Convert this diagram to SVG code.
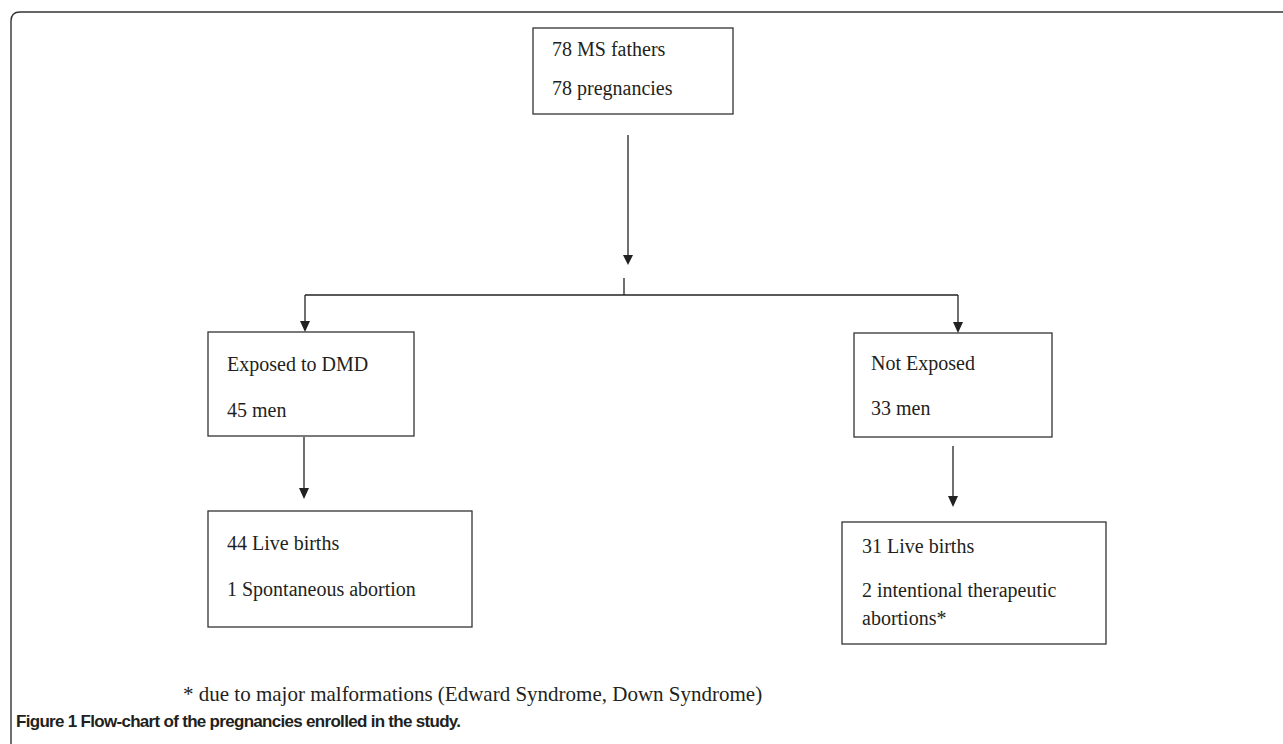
<svg xmlns="http://www.w3.org/2000/svg" width="1283" height="744" viewBox="0 0 1283 744">
<style>
.box{fill:#fff;stroke:#333;stroke-width:1.3}
.t{font-family:"Liberation Serif","Times New Roman",serif;font-size:20px;fill:#231f20}
.fn{font-family:"Liberation Serif","Times New Roman",serif;font-size:21px;fill:#231f20}
.cap{font-family:"Liberation Sans",Arial,sans-serif;font-size:17px;font-weight:bold;letter-spacing:-0.7px;fill:#231f20}
.ln{stroke:#222;stroke-width:1.3;fill:none}
.ah{fill:#222}
.frame{fill:none;stroke:#333;stroke-width:1.4}
</style>
<rect width="1283" height="744" fill="#fff"/>
<path class="frame" d="M11,744 V21 Q11,12 20,12 H1283"/>
<g id="connectors">
<line class="ln" x1="628" y1="135" x2="628" y2="256"/>
<polygon class="ah" points="623,255 633,255 628,265"/>
<line class="ln" x1="624" y1="278" x2="624" y2="295"/>
<line class="ln" x1="305" y1="295" x2="958" y2="295"/>
<line class="ln" x1="305" y1="295" x2="305" y2="322"/>
<polygon class="ah" points="300,321 310,321 305,332"/>
<line class="ln" x1="958" y1="295" x2="958" y2="323"/>
<polygon class="ah" points="953,322 963,322 958,333"/>
<line class="ln" x1="304" y1="437" x2="304" y2="489"/>
<polygon class="ah" points="299,488 309,488 304,499"/>
<line class="ln" x1="953" y1="446" x2="953" y2="497"/>
<polygon class="ah" points="948,496 958,496 953,507"/>
</g>
<g id="node-top">
<rect class="box" x="533" y="28" width="200" height="86"/>
<text class="t" x="552" y="56">78 MS fathers</text>
<text class="t" x="552" y="95">78 pregnancies</text>
</g>
<g id="node-exposed">
<rect class="box" x="208" y="332" width="206" height="104"/>
<text class="t" x="227" y="371">Exposed to DMD</text>
<text class="t" x="227" y="417">45 men</text>
</g>
<g id="node-not-exposed">
<rect class="box" x="854" y="333" width="198" height="104"/>
<text class="t" x="871" y="370">Not Exposed</text>
<text class="t" x="871" y="415">33 men</text>
</g>
<g id="node-exposed-outcome">
<rect class="box" x="208" y="511" width="264" height="116"/>
<text class="t" x="227" y="550">44 Live births</text>
<text class="t" x="227" y="596">1 Spontaneous abortion</text>
</g>
<g id="node-not-exposed-outcome">
<rect class="box" x="842" y="522" width="264" height="122"/>
<text class="t" x="862" y="553">31 Live births</text>
<text class="t" x="862" y="597">2 intentional therapeutic</text>
<text class="t" x="862" y="625">abortions*</text>
</g>
<text class="fn" x="183" y="701">* due to major malformations (Edward Syndrome, Down Syndrome)</text>
<text class="cap" x="16" y="727">Figure 1 Flow-chart of the pregnancies enrolled in the study.</text>
</svg>
